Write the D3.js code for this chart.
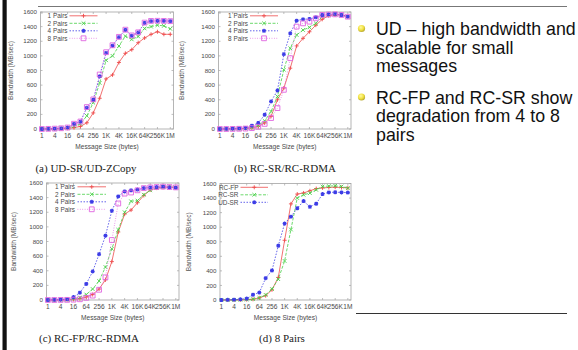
<!DOCTYPE html>
<html>
<head>
<meta charset="utf-8">
<script src="https://cdn.jsdelivr.net/npm/d3@7"></script>
<style>
  html, body { margin: 0; padding: 0; background: #fff; }
  svg { display: block; }
</style>
</head>
<body>
<svg id="slide" width="578" height="350"></svg>
<script>
// ---------- data ----------
const msgSizes = [1, 2, 4, 8, 16, 32, 64, 128, 256, 512, 1024, 2048, 4096, 8192, 16384,
                  32768, 65536, 131072, 262144, 524288, 1048576];
const xTickValues = [1, 4, 16, 64, 256, 1024, 4096, 16384, 65536, 262144, 1048576];
const xTickLabels = ["1", "4", "16", "64", "256", "1K", "4K", "16K", "64K", "256K", "1M"];
const yTickValues = [0, 200, 400, 600, 800, 1000, 1200, 1400, 1600];

const pairNames = ["1 Pairs", "2 Pairs", "4 Pairs", "8 Pairs"];
const schemeNames = ["RC-FP", "RC-SR", "UD-SR"];

// (a) UD-SR/UD-ZCopy
const udsr1 = [0, 0, 2, 5, 10, 18, 35, 85, 220, 420, 685, 740, 910, 1035, 1085, 1180, 1245, 1295, 1330, 1295, 1295];
const udsr2 = [0, 0, 3, 7, 15, 40, 70, 180, 360, 630, 940, 1000, 1135, 1270, 1225, 1265, 1375, 1400, 1420, 1410, 1370];
const udsr4 = [0, 2, 5, 10, 20, 70, 100, 290, 400, 720, 1040, 1140, 1255, 1355, 1275, 1320, 1450, 1475, 1478, 1478, 1475];
const udsr8 = [0, 2, 5, 10, 20, 72, 102, 300, 405, 745, 1050, 1145, 1260, 1358, 1280, 1322, 1455, 1478, 1480, 1478, 1475];

// (b) RC-SR/RC-RDMA
const rcsr1 = [0, 0, 2, 4, 8, 15, 35, 82, 173, 400, 560, 832, 1136, 1240, 1330, 1420, 1500, 1550, 1559, 1559, 1536];
const rcsr2 = [0, 0, 2, 5, 10, 20, 50, 110, 240, 445, 810, 1105, 1286, 1354, 1390, 1445, 1536, 1559, 1573, 1559, 1536];
const rcsr4 = [0, 2, 4, 8, 15, 45, 82, 195, 377, 527, 1023, 1309, 1482, 1500, 1505, 1527, 1559, 1568, 1573, 1559, 1536];
const rcsr8 = [0, 0, 1, 3, 6, 12, 30, 70, 150, 286, 536, 968, 1400, 1445, 1468, 1513, 1559, 1565, 1568, 1559, 1536];

// (c) RC-FP/RC-RDMA
const rcfp1 = [0, 0, 1, 3, 8, 18, 40, 75, 150, 275, 525, 930, 1175, 1230, 1330, 1430, 1505, 1530, 1540, 1545, 1540];
const rcfp2 = [0, 0, 2, 5, 15, 35, 75, 150, 260, 450, 700, 960, 1200, 1350, 1360, 1440, 1500, 1530, 1545, 1545, 1540];
const rcfp4 = [0, 2, 5, 10, 40, 100, 220, 390, 626, 880, 1220, 1417, 1485, 1500, 1510, 1530, 1540, 1545, 1550, 1540, 1535];
const rcfp8 = [0, 0, 1, 2, 5, 10, 30, 60, 140, 310, 820, 1320, 1455, 1470, 1500, 1530, 1540, 1545, 1550, 1545, 1540];

const captions = ["(a) UD-SR/UD-ZCopy", "(b) RC-SR/RC-RDMA", "(c) RC-FP/RC-RDMA", "(d) 8 Pairs"];
const bullets = [
  ["UD \u2013 high bandwidth and", "scalable for small", "messages"],
  ["RC-FP and RC-SR show", "degradation from 4 to 8", "pairs"]
];

// ---------- styles ----------
const seriesStyle = [
  { color: "#ee4c4c", dash: null,    marker: "plus" },
  { color: "#48d048", dash: "3,1.5", marker: "cross" },
  { color: "#3c3ce6", dash: "1.5,1.5", marker: "star" },
  { color: "#e064e0", dash: "0.8,1.6", marker: "square" }
];

const svg = d3.select("#slide");
const sans = "'Liberation Sans', Arial, Helvetica, sans-serif";
const serif = "'Liberation Serif', 'Times New Roman', serif";

// slide decorations
svg.append("rect").attr("x", 2.5).attr("y", 0).attr("width", 4.2).attr("height", 350).attr("fill", "#111");
svg.append("line").attr("x1", 38).attr("x2", 567).attr("y1", 6.5).attr("y2", 6.5)
  .attr("stroke", "#777").attr("stroke-width", 1);
svg.append("line").attr("x1", 356).attr("x2", 567).attr("y1", 313.5).attr("y2", 313.5)
  .attr("stroke", "#333").attr("stroke-width", 1.2);

function markerPath(type, x, y) {
  const s = 2;
  const p = d3.path();
  if (type === "plus" || type === "star") {
    p.moveTo(x - s, y); p.lineTo(x + s, y);
    p.moveTo(x, y - s); p.lineTo(x, y + s);
  }
  if (type === "cross" || type === "star") {
    const c = type === "star" ? 1.5 : 1.8;
    p.moveTo(x - c, y - c); p.lineTo(x + c, y + c);
    p.moveTo(x + c, y - c); p.lineTo(x - c, y + c);
  }
  if (type === "square") {
    p.rect(x - 2.4, y - 2.4, 4.8, 4.8);
  }
  return p.toString();
}

function drawPanel(cfg) {
  const { L, R, T, B, series, names, legendText, legendSample, yTitleX, caption, captionX, captionY } = cfg;
  const g = svg.append("g");
  const x = d3.scaleLog().base(2).domain([Math.pow(2, -0.22), Math.pow(2, 20.5)]).range([L, R]);
  const y = d3.scaleLinear().domain([0, 1600]).range([B, T]);

  // frame
  g.append("rect").attr("x", L).attr("y", T).attr("width", R - L).attr("height", B - T)
    .attr("fill", "none").attr("stroke", "#a4a4a4").attr("stroke-width", 0.8);

  // y ticks
  yTickValues.forEach(v => {
    g.append("line").attr("x1", L).attr("x2", L + 2).attr("y1", y(v)).attr("y2", y(v))
      .attr("stroke", "#a4a4a4").attr("stroke-width", 0.7);
    g.append("line").attr("x1", R - 2).attr("x2", R).attr("y1", y(v)).attr("y2", y(v))
      .attr("stroke", "#a4a4a4").attr("stroke-width", 0.7);
    g.append("text").attr("x", L - 3.5).attr("y", y(v) + 2.1).attr("text-anchor", "end")
      .attr("font-family", sans).attr("font-size", 6.2).attr("fill", "#4a4a4a").text(v);
  });
  // x ticks
  xTickValues.forEach((v, i) => {
    g.append("line").attr("x1", x(v)).attr("x2", x(v)).attr("y1", B).attr("y2", B - 2)
      .attr("stroke", "#a4a4a4").attr("stroke-width", 0.7);
    g.append("line").attr("x1", x(v)).attr("x2", x(v)).attr("y1", T).attr("y2", T + 2)
      .attr("stroke", "#a4a4a4").attr("stroke-width", 0.7);
    g.append("text").attr("x", x(v)).attr("y", B + 9.3).attr("text-anchor", "middle")
      .attr("font-family", sans).attr("font-size", 6.6).attr("fill", "#4a4a4a").text(xTickLabels[i]);
  });
  // axis titles
  g.append("text").attr("x", (L + R) / 2).attr("y", B + 19.5).attr("text-anchor", "middle")
    .attr("font-family", sans).attr("font-size", 6.6).attr("fill", "#4a4a4a").text("Message Size (bytes)");
  g.append("text").attr("transform", `translate(${yTitleX},${(T + B) / 2}) rotate(-90)`)
    .attr("text-anchor", "middle").attr("dy", "0.35em")
    .attr("font-family", sans).attr("font-size", 6.6).attr("fill", "#555").text("Bandwidth (MB/sec)");

  // series
  const line = d3.line().x((d, i) => x(msgSizes[i])).y(d => y(d));
  series.forEach((vals, k) => {
    const st = seriesStyle[k];
    g.append("path").attr("d", line(vals)).attr("fill", "none")
      .attr("stroke", st.color).attr("stroke-width", 0.8)
      .attr("stroke-dasharray", st.dash);
    const pts = g.append("g");
    vals.forEach((v, i) => {
      pts.append("path").attr("d", markerPath(st.marker, x(msgSizes[i]), y(v)))
        .attr("fill", "none").attr("stroke", st.color).attr("stroke-width", st.marker === "star" ? 1.1 : 0.9);
    });
  });

  // legend
  names.forEach((nm, k) => {
    const st = seriesStyle[k];
    const ly = T + 3.8 + k * 7.5;
    g.append("text").attr("x", L + legendText).attr("y", ly + 2.2).attr("text-anchor", "end")
      .attr("font-family", sans).attr("font-size", 6.4).attr("fill", "#4a4a4a").text(nm);
    g.append("line").attr("x1", L + legendSample[0]).attr("x2", L + legendSample[1])
      .attr("y1", ly).attr("y2", ly).attr("stroke", st.color).attr("stroke-width", 0.8)
      .attr("stroke-dasharray", st.dash);
    g.append("path").attr("d", markerPath(st.marker, L + (legendSample[0] + legendSample[1]) / 2, ly))
      .attr("fill", "none").attr("stroke", st.color).attr("stroke-width", st.marker === "star" ? 1.1 : 0.9);
  });

  // caption
  svg.append("text").attr("x", captionX).attr("y", captionY).attr("text-anchor", "middle")
    .attr("font-family", serif).attr("font-size", 11).attr("fill", "#222").text(caption);
}

drawPanel({ L: 40.5, R: 173.5, T: 12, B: 129, series: [udsr1, udsr2, udsr4, udsr8], names: pairNames,
  legendText: 27, legendSample: [29, 57], yTitleX: 10.5, caption: captions[0], captionX: 86, captionY: 171.5 });
drawPanel({ L: 218.5, R: 351, T: 12, B: 129, series: [rcsr1, rcsr2, rcsr4, rcsr8], names: pairNames,
  legendText: 29.5, legendSample: [31.5, 59.5], yTitleX: 182, caption: captions[1], captionX: 285, captionY: 171.5 });
drawPanel({ L: 46.5, R: 179, T: 183, B: 300, series: [rcfp1, rcfp2, rcfp4, rcfp8], names: pairNames,
  legendText: 28.5, legendSample: [31, 59.5], yTitleX: 13.5, caption: captions[2], captionX: 89, captionY: 342 });
// (d) uses the 8-pair series of each scheme; style order: red, green, blue
drawPanel({ L: 220, R: 351, T: 183.5, B: 300, series: [rcfp8, rcsr8, udsr8], names: schemeNames,
  legendText: 18.5, legendSample: [20.5, 48], yTitleX: 188.5, caption: captions[3], captionX: 282, captionY: 342 });

// bullets
const defs = svg.append("defs");
const grad = defs.append("radialGradient").attr("id", "bul").attr("cx", "40%").attr("cy", "35%").attr("r", "65%");
grad.append("stop").attr("offset", "0%").attr("stop-color", "#fffaa0");
grad.append("stop").attr("offset", "60%").attr("stop-color", "#f0e040");
grad.append("stop").attr("offset", "100%").attr("stop-color", "#b8a830");

const bulletTop = [35, 103.5];
bullets.forEach((lines, b) => {
  svg.append("circle").attr("cx", 361.5).attr("cy", bulletTop[b] - 6.5).attr("r", 3.6)
    .attr("fill", "url(#bul)");
  lines.forEach((t, j) => {
    svg.append("text").attr("x", 376).attr("y", bulletTop[b] + j * 18.7)
      .attr("font-family", sans).attr("font-size", 17.8).attr("fill", "#111").text(t);
  });
});
</script>
</body>
</html>
